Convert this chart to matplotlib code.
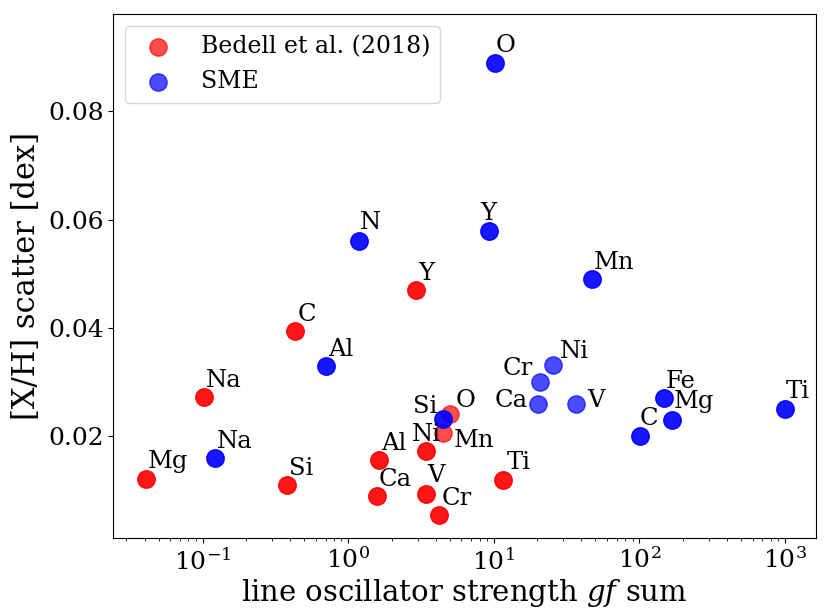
import matplotlib
matplotlib.use("Agg")
import matplotlib.pyplot as plt

plt.rcParams['font.family'] = ['DejaVu Serif']
plt.rcParams['mathtext.fontset'] = 'dejavuserif'

# Bedell et al. (2018)
bedell_el = ["Mg", "Na", "Si", "C", "Al", "Ca", "Y", "Ni", "V", "Cr", "O", "Mn", "Ti"]
bedell_gf = [0.041, 0.102, 0.381, 0.433, 1.625, 1.574, 2.93, 3.42, 3.42, 4.24, 5.02, 4.51, 11.5]
bedell_sc = [0.0121, 0.0273, 0.0110, 0.0395, 0.0156, 0.0090, 0.0470, 0.0172, 0.0093, 0.0054, 0.0241, 0.0206, 0.0119]

# SME
sme_el = ["Na", "Al", "N", "Si", "Y", "O", "Ca", "Cr", "Ni", "V", "Mn", "C", "Fe", "Mg", "Ti"]
sme_gf = [0.122, 0.703, 1.18, 4.51, 9.3, 10.2, 20.3, 20.8, 25.5, 36.6, 47.2, 101, 148, 169, 1002]
sme_sc = [0.0160, 0.0329, 0.0560, 0.0231, 0.0579, 0.0889, 0.0260, 0.0301, 0.0332, 0.0260, 0.0490, 0.0201, 0.0270, 0.0230, 0.0250]

# points that appear only once (lighter); all others are drawn twice in the original
bedell_single = ["O", "Mn"]
sme_single = ["Ca", "Cr", "Ni", "V"]

# label offsets in pixels (dx, dy), with default
default_off = (2, 10)
bedell_off = {"Ni": (-14, 10), "O": (6, 7), "Mn": (10, -14), "Ti": (4, 11), "V": (1, 12), "Mg": (2, 11)}
bedell_ha = {}
sme_off = {"Si": (-6, 6), "Cr": (-7, 7), "Ni": (7, 7), "Ca": (-11, -3), "V": (12, -3),
           "Y": (-9, 11), "N": (1, 12), "Mg": (1, 12), "C": (0, 11), "O": (1, 11), "Ti": (1, 11)}
sme_ha = {"Si": "right", "Cr": "right", "Ca": "right"}

fig = plt.figure(figsize=(8.29, 6.11), dpi=100)
ax = fig.add_axes([0.1367, 0.1195, 0.9843 - 0.1367, 0.977 - 0.1195])

S = 155
A = 0.7
ax.scatter(bedell_gf, bedell_sc, s=S, color='red', alpha=A, label="Bedell et al. (2018)")
ax.scatter(sme_gf, sme_sc, s=S, color='blue', alpha=A, label="SME")
# second pass
bx = [g for g, e in zip(bedell_gf, bedell_el) if e not in bedell_single]
by = [v for v, e in zip(bedell_sc, bedell_el) if e not in bedell_single]
sx = [g for g, e in zip(sme_gf, sme_el) if e not in sme_single]
sy = [v for v, e in zip(sme_sc, sme_el) if e not in sme_single]
ax.scatter(bx, by, s=S, color='red', alpha=A)
ax.scatter(sx, sy, s=S, color='blue', alpha=A)

FS = 17.5
for e, g, v in zip(bedell_el, bedell_gf, bedell_sc):
    ax.annotate(e, (g, v), xytext=bedell_off.get(e, default_off), textcoords='offset pixels',
                ha=bedell_ha.get(e, 'left'), va='baseline', fontsize=FS)
for e, g, v in zip(sme_el, sme_gf, sme_sc):
    ax.annotate(e, (g, v), xytext=sme_off.get(e, default_off), textcoords='offset pixels',
                ha=sme_ha.get(e, 'left'), va='baseline', fontsize=FS)

ax.set_xscale('log')
ax.set_xlim(0.0244, 1637)
ax.set_ylim(0.0012, 0.098)
ax.set_yticks([0.02, 0.04, 0.06, 0.08])
ax.tick_params(labelsize=18)
ax.set_xlabel("line oscillator strength $gf$ sum", fontsize=21, labelpad=2)
ax.set_ylabel("[X/H] scatter [dex]", fontsize=22)
ax.legend(loc='upper left', fontsize=17)

fig.savefig("out.png", dpi=100)
